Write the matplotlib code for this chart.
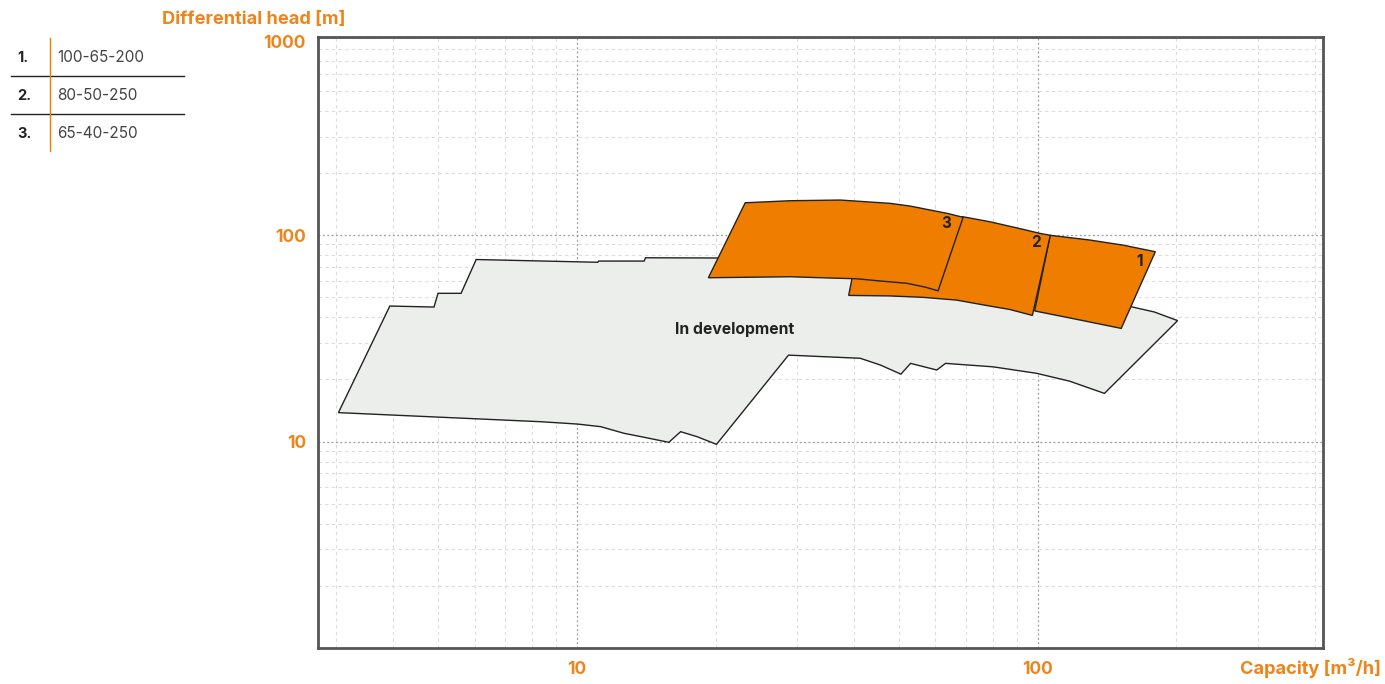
import matplotlib.pyplot as plt
from matplotlib.lines import Line2D
from matplotlib.ticker import LogLocator, NullFormatter

plt.rcParams['font.family'] = ['Inter', 'DejaVu Sans']

ORANGE = '#ef7d00'
ORANGE_TXT = '#f08419'

# pump models (legend table)
model_nums = ['1.', '2.', '3.']
model_names = ['100-65-200', '80-50-250', '65-40-250']

# "In development" area, capacity [m3/h] / head [m]
dev_q = [3.04, 3.93, 4.90, 5.00, 5.61, 6.05, 11.1, 11.16, 14.0, 14.1, 25.0, 82.8,
         136.2, 160.6, 179.1, 201.2, 139.6, 117.3, 99.4, 80.0, 63.1, 60.4, 53.0, 50.5,
         45.5, 41.2, 28.8, 20.1, 18.25, 16.8, 15.84, 14.1, 12.66, 11.27, 10.03, 8.36]
dev_h = [13.8, 45.3, 44.8, 52.2, 52.2, 76.1, 73.8, 74.8, 74.8, 77.6, 77.3, 57.3,
         48.4, 44.8, 42.4, 38.5, 17.1, 19.6, 21.4, 23.0, 23.9, 22.2, 23.9, 21.2,
         23.5, 25.3, 26.2, 9.69, 10.55, 11.16, 9.91, 10.45, 10.96, 11.8, 12.15, 12.47]

# pump 1: 100-65-200
p1_q = [106.5, 129.6, 153.0, 180.0, 151.8, 123.3, 98.5]
p1_h = [99.7, 94.6, 89.4, 83.0, 35.3, 38.8, 42.9]

# pump 2: 80-50-250
p2_q = [68.7, 78.7, 92.9, 101.0, 106.5, 97.4, 87.0, 78.7, 66.7, 56.5, 47.8, 38.9, 39.8]
p2_h = [122.7, 116.0, 106.6, 101.9, 99.7, 40.8, 43.6, 45.3, 48.4, 49.9, 50.7, 51.0, 66.2]

# pump 3: 65-40-250
p3_q = [23.2, 29.05, 37.3, 47.8, 52.8, 58.4, 63.9, 68.9, 60.8, 56.9, 52.0, 45.5, 40.5,
        35.5, 29.05, 19.3]
p3_h = [143.3, 146.6, 147.7, 142.4, 138.2, 132.2, 127.1, 121.8, 53.7, 56.0, 58.4, 59.9,
        61.4, 61.9, 62.8, 62.1]

# number labels on the areas
lab_txt = ['1', '2', '3']
lab_q = [166.3, 99.4, 63.4]
lab_h = [74.8, 91.8, 114.0]

fig = plt.figure(figsize=(13.85, 6.84), dpi=100)
ax = fig.add_axes([318 / 1385, 36 / 684, 1005 / 1385, 611 / 684])
ax.set_xscale('log')
ax.set_yscale('log')
ax.set_xlim(2.745, 416)
ax.set_ylim(1, 910)

# grid
ax.xaxis.set_minor_locator(LogLocator(base=10, subs=range(2, 10), numticks=20))
ax.yaxis.set_minor_locator(LogLocator(base=10, subs=range(2, 10), numticks=20))
ax.xaxis.set_minor_formatter(NullFormatter())
ax.yaxis.set_minor_formatter(NullFormatter())
ax.grid(which='minor', color='#dcdcdc', linestyle=(0, (3, 3)), linewidth=0.8)
ax.grid(which='major', color='#9a9a9a', linestyle=(0, (1.5, 2)), linewidth=0.9)
ax.set_axisbelow(True)

ax.fill(dev_q, dev_h, facecolor='#eceeec', edgecolor='#222222', linewidth=1.0, zorder=2)
ax.fill(p1_q, p1_h, facecolor=ORANGE, edgecolor='#222222', linewidth=1.0, zorder=3)
ax.fill(p2_q, p2_h, facecolor=ORANGE, edgecolor='#222222', linewidth=1.0, zorder=4)
ax.fill(p3_q, p3_h, facecolor=ORANGE, edgecolor='#222222', linewidth=1.0, zorder=5)

for t, q, h in zip(lab_txt, lab_q, lab_h):
    ax.text(q, h, t, fontsize=11, fontweight='bold', color='#222222',
            ha='center', va='center', zorder=6)
ax.text(22.0, 34.7, 'In development', fontsize=11.3, fontweight='bold',
        color='#222222', ha='center', va='center', zorder=6)

ax.set_xticks([10, 100])
ax.set_xticklabels(['10', '100'])
ax.set_yticks([10, 100])
ax.set_yticklabels(['10', '100'])
ax.tick_params(which='both', length=0)
ax.tick_params(axis='x', pad=9)
ax.tick_params(axis='y', pad=8.6)
for lab in ax.get_xticklabels() + ax.get_yticklabels():
    lab.set_color(ORANGE_TXT)
    lab.set_fontweight('bold')
    lab.set_fontsize(12.5)
ax.annotate('1000', xy=(0, 1), xycoords='axes fraction', xytext=(-12, -6),
            textcoords='offset pixels', ha='right', va='center',
            color=ORANGE_TXT, fontweight='bold', fontsize=12.5)

for s in ax.spines.values():
    s.set_color('#555555')
    s.set_linewidth(2)

fig.text(162 / 1385, 1 - 19 / 684, 'Differential head [m]', color=ORANGE_TXT,
         fontweight='bold', fontsize=13.1, ha='left', va='center')
fig.text(1381 / 1385, 1 - 668 / 684, 'Capacity [m³/h]', color=ORANGE_TXT,
         fontweight='bold', fontsize=13.1, ha='right', va='center')

# legend table
row_y = [58, 96, 134]
for n, name, y in zip(model_nums, model_names, row_y):
    fig.text(17 / 1385, 1 - y / 684, n, fontsize=10.5, fontweight='bold',
             color='#222222', ha='left', va='center')
    fig.text(57 / 1385, 1 - y / 684, name, fontsize=11, color='#444444',
             ha='left', va='center')
for y in [75.5, 113.5]:
    fig.add_artist(Line2D([11 / 1385, 184 / 1385], [1 - y / 684, 1 - y / 684],
                          color='#222222', linewidth=1.0, transform=fig.transFigure))
fig.add_artist(Line2D([49.5 / 1385, 49.5 / 1385], [1 - 38 / 684, 1 - 151 / 684],
                      color=ORANGE, linewidth=1.0, transform=fig.transFigure))

fig.savefig('out.png', dpi=100)
